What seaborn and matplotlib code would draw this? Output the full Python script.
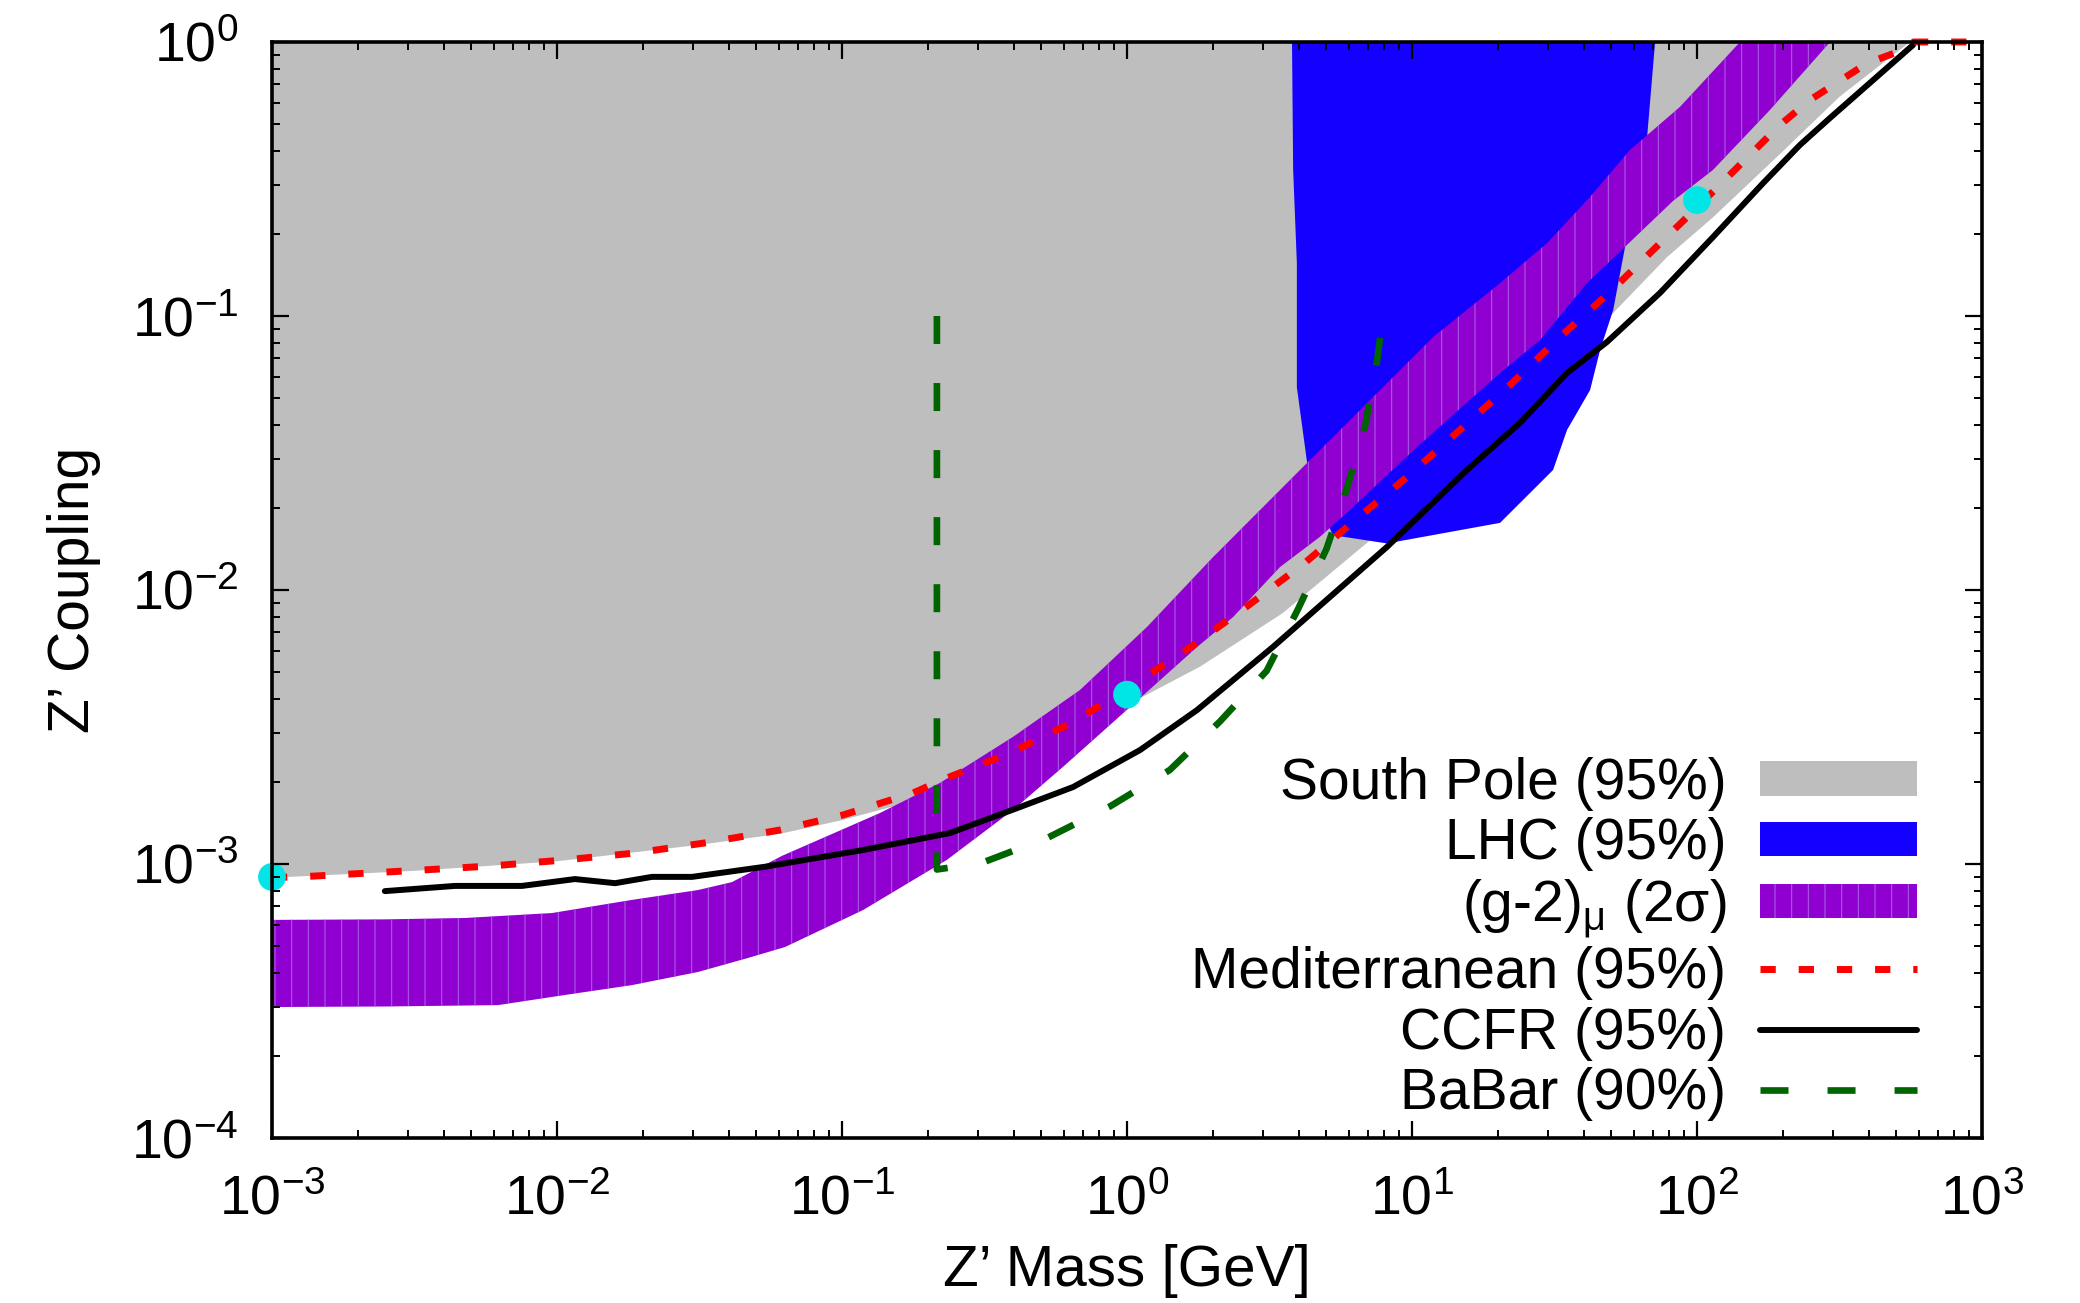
import numpy as np
import matplotlib
matplotlib.use("Agg")
import matplotlib.pyplot as plt
import seaborn as sns
from matplotlib.ticker import FixedLocator, LogLocator, FuncFormatter, NullFormatter

# ---------------- data (log10 of mass in GeV, log10 of coupling) ----------------
# South Pole (95%) excluded region: lower boundary, region extends up to g = 1
southpole_log_m = [-3.0, -2.5, -2.0, -1.5, -1.218, -1.0, -0.75, -0.5, -0.25, 0.0,
                   0.256, 0.547, 0.842, 1.2, 1.5, 1.705, 1.895, 2.056, 2.29, 2.50, 2.747]
southpole_log_g = [-3.05, -3.025, -2.99, -2.93, -2.89, -2.84, -2.77, -2.67, -2.55, -2.42,
                   -2.28, -2.084, -1.828, -1.49, -1.2, -0.99, -0.785, -0.64, -0.41, -0.20, 0.0]

# LHC (95%) excluded region (closed outline)
lhc_log_m = [0.579, 0.583, 0.596, 0.596, 0.632, 0.70, 0.723, 0.912, 1.309, 1.495,
             1.544, 1.625, 1.66, 1.706, 1.754, 1.824, 1.853]
lhc_log_g = [0.0, -0.467, -0.807, -1.26, -1.536, -1.75, -1.80, -1.83, -1.755, -1.562,
             -1.416, -1.27, -1.124, -0.978, -0.712, -0.358, 0.0]

# (g-2)_mu 2 sigma band
gm2_up_log_m = [-3.0, -2.6, -2.323, -2.018, -1.737, -1.505, -1.386, -1.21, -0.867, -0.656,
                -0.4, -0.165, 0.07, 0.302, 0.607, 0.842, 1.074, 1.309, 1.474, 1.625,
                1.765, 1.94, 2.151]
gm2_up_log_g = [-3.204, -3.202, -3.197, -3.179, -3.131, -3.095, -3.066, -2.97, -2.814, -2.704,
                -2.536, -2.365, -2.135, -1.88, -1.562, -1.318, -1.077, -0.88, -0.734, -0.565,
                -0.394, -0.237, 0.0]
gm2_lo_log_m = [-3.0, -2.6, -2.207, -1.972, -1.737, -1.505, -1.33, -1.2, -0.926, -0.632,
                -0.4, -0.225, 0.011, 0.246, 0.372, 0.537, 0.677, 0.782, 1.018, 1.309,
                1.449, 1.614, 1.775, 1.916, 2.056, 2.256, 2.467]
gm2_lo_log_g = [-3.522, -3.52, -3.515, -3.478, -3.442, -3.394, -3.343, -3.303, -3.168, -2.985,
                -2.803, -2.646, -2.427, -2.208, -2.099, -1.916, -1.806, -1.708, -1.478, -1.208,
                -1.088, -0.88, -0.72, -0.58, -0.467, -0.248, 0.0]

# Mediterranean (95%)
med_log_m = [-3.0, -2.85, -2.474, -2.228, -1.972, -1.726, -1.481, -1.218, -0.996, -0.751,
             -0.632, -0.411, -0.189, 0.021, 0.221, 0.421, 0.625, 0.793, 0.982, 1.168,
             1.351, 1.519, 1.695, 1.870, 2.004, 2.126, 2.291, 2.396, 2.596, 2.72, 2.76, 3.0]
med_log_g = [-3.05, -3.044, -3.022, -3.007, -2.985, -2.96, -2.923, -2.876, -2.821, -2.741,
             -2.686, -2.595, -2.482, -2.347, -2.21, -2.06, -1.90, -1.752, -1.588, -1.416,
             -1.245, -1.077, -0.912, -0.735, -0.60, -0.474, -0.303, -0.212, -0.078, -0.03, 0.0, 0.0]

# CCFR (95%)
ccfr_log_m = [-2.604, -2.358, -2.123, -1.937, -1.796, -1.667, -1.526, -1.27, -0.926, -0.621,
              -0.375, -0.189, 0.046, 0.246, 0.512, 0.912, 1.193, 1.379, 1.544, 1.684,
              1.870, 2.056, 2.232, 2.361, 2.467, 2.758]
ccfr_log_g = [-3.099, -3.08, -3.08, -3.055, -3.07, -3.047, -3.047, -3.01, -2.949, -2.887,
              -2.792, -2.719, -2.584, -2.438, -2.208, -1.843, -1.562, -1.39, -1.208, -1.095,
              -0.916, -0.712, -0.515, -0.376, -0.277, -0.011]

# BaBar (90%)
babar_log_m = [-0.667, -0.667, -0.51, -0.28, -0.06, 0.15, 0.326, 0.49, 0.60, 0.70,
               0.77, 0.835, 0.877, 0.888]
babar_log_g = [-1.0, -3.02, -2.996, -2.905, -2.79, -2.657, -2.48, -2.295, -2.07, -1.85,
               -1.635, -1.405, -1.168, -1.08]

# benchmark points
bench_mass = [1e-3, 1.0, 100.0]
bench_coupling = [8.97e-4, 4.15e-3, 0.265]

# axis ticks
x_major_ticks = [1e-3, 1e-2, 1e-1, 1e0, 1e1, 1e2, 1e3]
y_major_ticks = [1e-4, 1e-3, 1e-2, 1e-1, 1e0]

legend_labels = ["South Pole (95%)", "LHC (95%)", r"(g-2)$_\mathregular{μ}$ (2σ)",
                 "Mediterranean (95%)", "CCFR (95%)", "BaBar (90%)"]

# ---------------- style ----------------
sns.set_theme(style="ticks")
plt.rcParams["font.family"] = ["Liberation Sans", "DejaVu Sans"]
plt.rcParams["mathtext.fontset"] = "custom"
plt.rcParams["mathtext.rm"] = "Liberation Sans"
plt.rcParams["mathtext.it"] = "Liberation Sans:italic"
plt.rcParams["mathtext.bf"] = "Liberation Sans:bold"
plt.rcParams["hatch.linewidth"] = 0.8
plt.rcParams["text.color"] = "black"
plt.rcParams["axes.labelcolor"] = "black"
plt.rcParams["xtick.color"] = "black"
plt.rcParams["ytick.color"] = "black"

GRAY = "#bebebe"
BLUE = "#1400ff"
PURPLE = "#9000d0"
RED = "#ff0000"
GREEN = "#006400"
CYAN = "#00e5e5"

fig = plt.figure(figsize=(20.8, 13.03), dpi=100)
ax = fig.add_axes([272 / 2080, 1 - 1138 / 1303, 1710 / 2080, 1096 / 1303])
ax.set_xscale("log")
ax.set_yscale("log")
ax.set_xlim(1e-3, 1e3)
ax.set_ylim(1e-4, 1)

p = lambda a: np.power(10.0, np.asarray(a, dtype=float))

# South Pole region
sp_x = np.r_[p(southpole_log_m), 1e-3]
sp_y = np.r_[p(southpole_log_g), 1.0]
gray_poly = ax.fill(sp_x, sp_y, color=GRAY, lw=0, zorder=1)[0]

# LHC region
blue_poly = ax.fill(p(lhc_log_m), p(lhc_log_g), color=BLUE, lw=0, zorder=1.5)[0]

# (g-2) band
gx = np.r_[p(gm2_up_log_m), p(gm2_lo_log_m)[::-1]]
gy = np.r_[p(gm2_up_log_g), p(gm2_lo_log_g)[::-1]]
purple_poly = ax.fill(gx, gy, facecolor=PURPLE, edgecolor="#a95be6", lw=0,
                      hatch="|", zorder=2)[0]

# lines
sns.lineplot(x=p(med_log_m), y=p(med_log_g), sort=False, estimator=None, ax=ax,
             color=RED, lw=5.0, linestyle=(0, (2.2, 3.3)), zorder=2.3, legend=False)
red_line = ax.lines[-1]
red_line.set_clip_on(False)
sns.lineplot(x=p(ccfr_log_m), y=p(ccfr_log_g), sort=False, estimator=None, ax=ax,
             color="black", lw=4.3, zorder=2.2, legend=False)
black_line = ax.lines[-1]

# BaBar dashed line: adjust the gap slightly so both ends finish on a dash
babar_lw = 4.8
bx, by = p(babar_log_m), p(babar_log_g)
disp = ax.transData.transform(np.c_[bx, by])
path_len = np.sum(np.hypot(*np.diff(disp, axis=0).T)) * 72.0 / fig.dpi / babar_lw
dash_on, gap0 = 4.2, 5.6
n_per = max(1, int(round((path_len - dash_on) / (dash_on + gap0))))
gap = (path_len - dash_on) / n_per - dash_on
sns.lineplot(x=bx, y=by, sort=False, estimator=None, ax=ax,
             color=GREEN, lw=babar_lw, linestyle=(0, (dash_on, gap)), zorder=2.25,
             legend=False)
green_line = ax.lines[-1]

sns.scatterplot(x=bench_mass, y=bench_coupling, ax=ax, color=CYAN, s=400,
                edgecolor="none", zorder=2.4, clip_on=False, legend=False)

ax.set_xlim(1e-3, 1e3)
ax.set_ylim(1e-4, 1)

# axes / ticks
for s in ax.spines.values():
    s.set_linewidth(2.6)
    s.set_color("black")
    s.set_zorder(10)
ax.xaxis.set_zorder(10)
ax.yaxis.set_zorder(10)

fmt = FuncFormatter(lambda v, pos: r"$\mathregular{10^{%d}}$" % int(round(np.log10(v))))
ax.xaxis.set_major_locator(FixedLocator(x_major_ticks))
ax.yaxis.set_major_locator(FixedLocator(y_major_ticks))
for axis in (ax.xaxis, ax.yaxis):
    axis.set_minor_locator(LogLocator(base=10, subs=np.arange(2, 10), numticks=20))
    axis.set_major_formatter(fmt)
    axis.set_minor_formatter(NullFormatter())

ax.tick_params(which="both", direction="in", top=True, right=True, color="black",
               labelsize=40, labelcolor="black")
ax.tick_params(which="major", length=12, width=1.6)
ax.tick_params(which="minor", length=6, width=1.4)
ax.tick_params(axis="x", which="major", pad=26)
ax.tick_params(axis="y", which="major", pad=24)

ax.set_xlabel("Z’ Mass [GeV]", fontsize=42, color="black")
ax.set_ylabel("Z’ Coupling", fontsize=41, color="black")
ax.xaxis.set_label_coords(0.5, -0.097)
ax.yaxis.set_label_coords(-0.100, 0.5)

leg = ax.legend([gray_poly, blue_poly, purple_poly, red_line, black_line, green_line],
                legend_labels, loc="lower right", bbox_to_anchor=(0.962, 0.0155),
                markerfirst=False, frameon=False, fontsize=41, handlelength=2.75,
                handleheight=0.55, handletextpad=0.6, labelspacing=0.113,
                borderpad=0, borderaxespad=0)
leg.set_zorder(20)

fig.savefig("out.png", dpi=100)
